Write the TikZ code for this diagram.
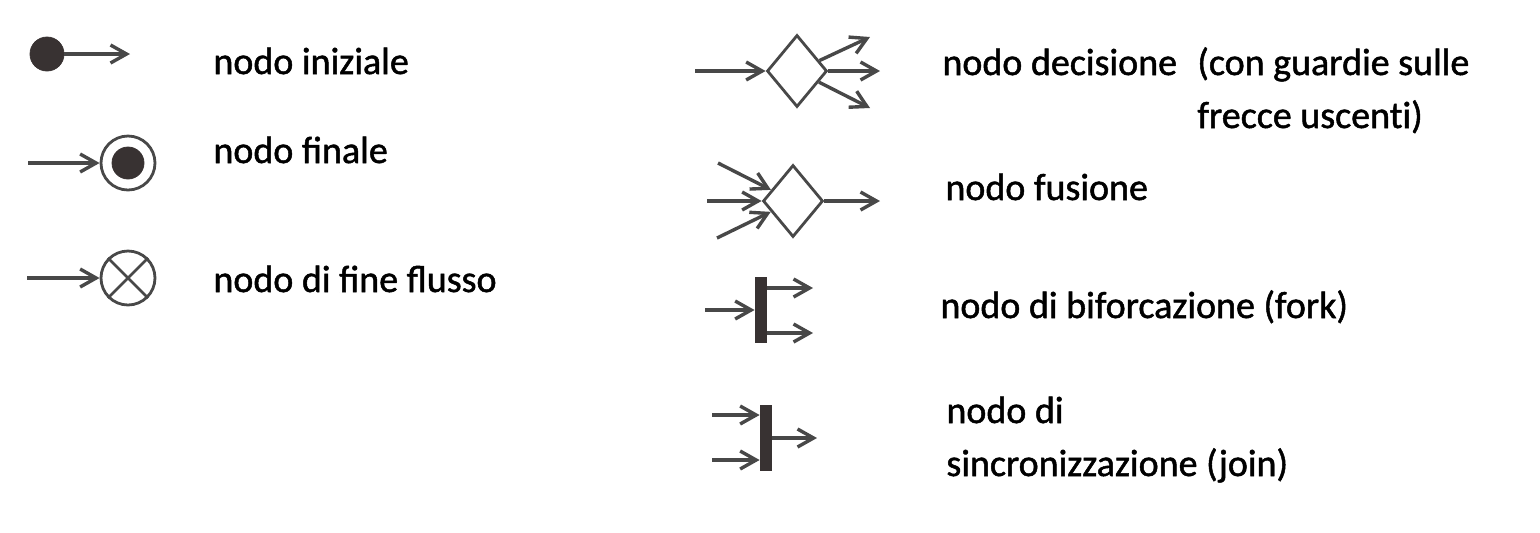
\documentclass[tikz,border=0pt]{standalone}
\usepackage{fontspec}
\setmainfont{Carlito}[RawFeature={embolden=1.3}]
\usetikzlibrary{arrows.meta,positioning,shapes.geometric}
\definecolor{linegray}{HTML}{484848}
\definecolor{darkfill}{HTML}{383232}

\begin{document}
\begin{tikzpicture}[x=0.5pt,y=-0.5pt,
  flow/.style={linegray,line width=1.7pt,-{Straight Barb[length=8pt,width=9pt,line width=1.7pt]}},
  legtext/.style={anchor=base west,inner sep=0pt,font=\fontsize{19}{23}\selectfont},
  dotnode/.style={circle,fill=darkfill,draw=darkfill,inner sep=0pt},
  ringnode/.style={circle,draw=linegray,line width=1.4pt,inner sep=0pt,minimum size=27pt},
  choice/.style={diamond,draw=linegray,line width=1.4pt,inner sep=0pt,minimum width=30pt,minimum height=36pt},
  bar/.style={rectangle,fill=darkfill,inner sep=0pt,minimum width=6pt,minimum height=33pt}]
  \useasboundingbox (0,0) rectangle (1540,532);

  % nodo iniziale
  \node[dotnode,minimum size=17pt] (ini) at (47,54) {};
  \coordinate (ini-out) at (130,54);
  \draw[flow] (ini) -- (ini-out);
  \node[legtext] (ini-txt) at (213,74) {nodo iniziale};

  % nodo finale
  \node[ringnode] (fin) at (128,163) {};
  \node[dotnode,minimum size=16pt] (fin-in) at (fin) {};
  \coordinate (fin-src) at (28,163);
  \draw[flow] (fin-src) -- (fin);
  \node[legtext] (fin-txt) at (213,163) {nodo finale};

  % nodo di fine flusso
  \node[ringnode] (ff) at (128,278) {};
  \draw[linegray,line width=1.4pt] (ff.north east) -- (ff.south west)
    (ff.north west) -- (ff.south east);
  \coordinate (ff-src) at (27,278);
  \draw[flow] (ff-src) -- (ff);
  \node[legtext] (ff-txt) at (213,292) {nodo di fine flusso};

  % nodo decisione
  \node[choice] (dec) at (797,71) {};
  \coordinate (dec-src) at (695,71);
  \coordinate (dec-o1) at (870,37);
  \coordinate (dec-o2) at (880,71);
  \coordinate (dec-o3) at (870,108);
  \draw[flow] (dec-src) -- (dec);
  \foreach \o in {dec-o1,dec-o2,dec-o3}
    \draw[flow] (dec) -- (\o);
  \node[legtext] (dec-txt) at (942,75) {nodo decisione};
  \node[legtext] (dec-note1) at (1197,75) {(con guardie sulle};
  \node[legtext] (dec-note2) at (1197,128) {frecce uscent\kern0pt i)};

  % nodo fusione
  \node[choice] (mrg) at (793,201) {};
  \coordinate (mrg-i1) at (718,163);
  \coordinate (mrg-i2) at (707,201);
  \coordinate (mrg-i3) at (717,238);
  \coordinate (mrg-out) at (880,201);
  \foreach \i in {mrg-i1,mrg-i2,mrg-i3}
    \draw[flow] (\i) -- (mrg);
  \draw[flow] (mrg) -- (mrg-out);
  \node[legtext] (mrg-txt) at (945,200) {nodo fusione};

  % nodo di biforcazione
  \node[bar] (fork) at (761,310) {};
  \coordinate (fork-src) at (705,310);
  \coordinate (fork-o1) at (813,288);
  \coordinate (fork-o2) at (813,333);
  \draw[flow] (fork-src) -- (fork);
  \draw[flow] (fork.east |- fork-o1) -- (fork-o1);
  \draw[flow] (fork.east |- fork-o2) -- (fork-o2);
  \node[legtext] (fork-txt) at (940,318) {nodo di biforcazione (fork)};

  % nodo di sincronizzazione
  \node[bar] (join) at (766,438) {};
  \coordinate (join-i1) at (712,415);
  \coordinate (join-i2) at (712,460);
  \coordinate (join-out) at (817,438);
  \draw[flow] (join-i1) -- (join.west |- join-i1);
  \draw[flow] (join-i2) -- (join.west |- join-i2);
  \draw[flow] (join) -- (join-out);
  \node[legtext] (join-txt1) at (946,423) {nodo di};
  \node[legtext] (join-txt2) at (946,476) {sincronizzazione (join)};
\end{tikzpicture}
\end{document}
